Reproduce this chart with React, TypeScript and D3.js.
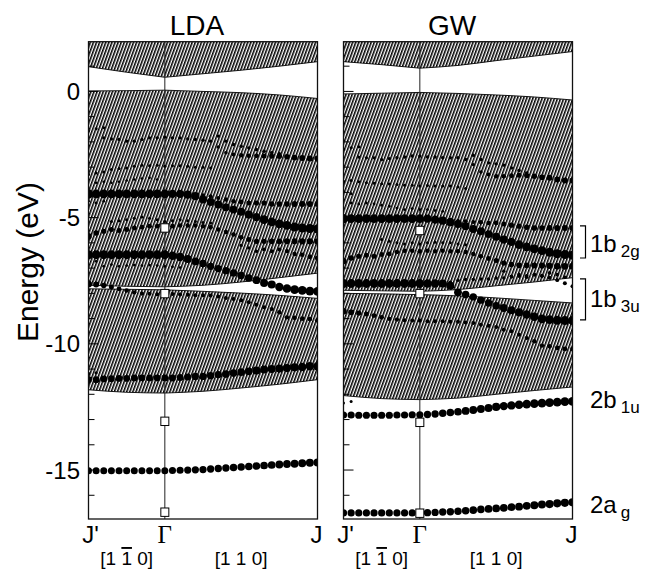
import React from "react";
import * as d3 from "d3";

// ---------- DATA ----------
// k-path: index 0 = J', 10 = Γ, 30 = J (31 k-points)
const kCount = 31;
const kLabels = ["J'", "Γ", "J"];
const kLabelIdx = [0, 10, 30];
const dirLabels = ["[1 ", "1", " 0]", "[1 1 0]"];
const yTickValues = [0, -5, -10, -15];
const panelTitles = ["LDA", "GW"];

// band-region edges (eV) at these k indices
const edgeK = [0, 5, 10, 15, 20, 25, 30];
const ldaCondBottom = [0.98, 0.76, 0.56, 0.7, 0.84, 1.0, 1.18];
const ldaValTop = [0.02, 0.03, 0.05, 0.0, -0.05, -0.14, -0.28];
const ldaValBottom = [-7.68, -7.72, -7.74, -7.68, -7.55, -7.38, -7.2];
const ldaLowTop = [-7.82, -7.84, -7.86, -7.92, -7.99, -8.08, -8.2];
const ldaLowBottom = [-11.82, -11.92, -11.95, -11.88, -11.75, -11.6, -11.42];

const gwCondBottom = [1.18, 1.06, 0.92, 1.03, 1.22, 1.4, 1.58];
const gwValTop = [-0.1, -0.07, -0.04, -0.08, -0.14, -0.22, -0.34];
const gwValBottom = [-7.88, -7.9, -7.92, -7.85, -7.7, -7.55, -7.38];
const gwLowTop = [-8.0, -8.02, -8.05, -8.1, -8.18, -8.28, -8.38];
const gwLowBottom = [-12.05, -12.17, -12.21, -12.15, -12.0, -11.85, -11.71];

// open squares at Γ (eV)
const ldaSquares = [-5.41, -8.01, -13.07, -16.67];
const gwSquares = [-5.51, -8.01, -13.11, -16.71];

// ---- LDA fat bands: energies (eV) and weights (0..1), starting at k index ----
const ldaAE = [-1.57, -1.48, -1.44];
const ldaAW = [0.3, 0.3, 0.3];
const ldaBE = [-1.84, -1.88, -1.9, -1.97, -1.97, -1.9, -1.84, -1.84, -1.81, -1.84, -1.84, -1.88, -1.9, -1.93, -1.97,
  -2.2, -2.43, -2.5, -2.53, -2.55, -2.55, -2.56, -2.56, -2.57, -2.59, -2.62, -2.64, -2.66, -2.66];
const ldaBW = [0.32, 0.32, 0.32, 0.32, 0.32, 0.34, 0.34, 0.34, 0.34, 0.34, 0.34, 0.34, 0.34, 0.34, 0.34,
  0.34, 0.36, 0.4, 0.44, 0.46, 0.48, 0.5, 0.52, 0.54, 0.56, 0.58, 0.6, 0.6, 0.62];
const ldaCE = [-1.77, -1.97, -2.1, -2.17, -2.24, -2.3, -2.37, -2.43, -2.47];
const ldaCW = [0.34, 0.34, 0.34, 0.34, 0.34, 0.34, 0.36, 0.36, 0.36];
const ldaDE = [-3.29, -3.23, -3.19, -3.09, -3.05, -3.03, -2.96, -2.92, -2.94, -2.92, -2.96, -2.94, -2.94, -2.96, -3.0, -3.0, -3.03];
const ldaDW = [0.3, 0.3, 0.3, 0.3, 0.3, 0.3, 0.3, 0.3, 0.3, 0.3, 0.3, 0.3, 0.3, 0.3, 0.3, 0.3, 0.3];
const ldaEE = [-3.62, -3.58, -3.62, -3.58, -3.53, -3.49, -3.45, -3.42, -3.49];
const ldaEW = [0.26, 0.26, 0.26, 0.26, 0.26, 0.26, 0.26, 0.26, 0.26];
const ldaFE = [-4.06, -4.06, -4.06, -4.06, -4.06, -4.06, -4.06, -4.06, -4.06, -4.06, -4.06, -4.06, -4.06,
  -4.09, -4.15, -4.28, -4.38, -4.48, -4.59, -4.68, -4.77, -4.88, -4.98, -5.08, -5.17, -5.25, -5.31, -5.37, -5.41, -5.43, -5.45];
const ldaFW = [0.92, 0.88, 0.88, 0.88, 0.88, 0.88, 0.88, 0.88, 0.88, 0.88, 0.86, 0.84, 0.84, 0.82, 0.82, 0.8, 0.78, 0.78, 0.78, 0.78,
  0.8, 0.82, 0.84, 0.86, 0.86, 0.88, 0.88, 0.9, 0.9, 0.92, 0.92];
const ldaF2E = [-4.35, -4.42, -4.35];
const ldaF2W = [0.28, 0.28, 0.28];
const ldaGE = [-4.09, -4.11, -4.15, -4.22, -4.28, -4.35, -4.38, -4.42, -4.42, -4.42, -4.46, -4.46, -4.46, -4.46, -4.46, -4.46, -4.46];
const ldaGW = [0.36, 0.36, 0.4, 0.4, 0.44, 0.46, 0.48, 0.5, 0.52, 0.52, 0.54, 0.56, 0.56, 0.58, 0.6, 0.6, 0.6];
const ldaHE = [-5.15, -5.12, -5.08, -5.02, -4.98, -5.02, -5.08, -5.15, -5.12, -5.08, -5.12, -5.15, -5.19, -5.21];
const ldaHW = [0.3, 0.3, 0.3, 0.3, 0.3, 0.3, 0.3, 0.3, 0.3, 0.3, 0.3, 0.3, 0.3, 0.3];
const ldaIE = [-5.74, -5.61, -5.54, -5.47, -5.51, -5.47, -5.41, -5.38, -5.34, -5.34, -5.37, -5.34, -5.31, -5.31, -5.31,
  -5.34, -5.38, -5.47, -5.57, -5.67, -5.78, -5.87, -5.94, -5.94, -5.94, -5.94, -5.94, -5.94, -5.94, -5.94, -5.94];
const ldaIW = [0.64, 0.56, 0.52, 0.5, 0.5, 0.5, 0.48, 0.48, 0.48, 0.48, 0.48, 0.48, 0.46, 0.44, 0.44, 0.44, 0.44, 0.44,
  0.44, 0.46, 0.48, 0.5, 0.52, 0.54, 0.56, 0.58, 0.6, 0.6, 0.62, 0.64, 0.64];
const ldaJE = [-6.1, -6.2, -6.33, -6.26, -6.33, -6.26, -6.33, -6.44, -6.47, -6.55, -6.6];
const ldaJW = [0.32, 0.34, 0.36, 0.38, 0.4, 0.4, 0.42, 0.44, 0.46, 0.48, 0.52];
const ldaKE = [-6.47, -6.47, -6.47, -6.47, -6.47, -6.47, -6.47, -6.47, -6.47, -6.47, -6.47,
  -6.51, -6.56, -6.64, -6.73, -6.82, -6.93, -7.02, -7.1, -7.19, -7.29, -7.39, -7.48, -7.59, -7.65, -7.75, -7.81, -7.85, -7.88, -7.91, -7.92];
const ldaKW = [0.92, 0.88, 0.88, 0.88, 0.88, 0.88, 0.88, 0.88, 0.88, 0.88, 0.88, 0.86, 0.84, 0.82, 0.78, 0.76, 0.74, 0.72, 0.72, 0.72,
  0.74, 0.76, 0.78, 0.8, 0.82, 0.84, 0.86, 0.88, 0.88, 0.88, 0.88];
const ldaLE = [-6.73, -6.93, -6.86, -6.93, -6.9, -6.88, -6.9, -6.88, -6.9, -6.93, -6.95, -6.98];
const ldaLW = [0.28, 0.28, 0.28, 0.28, 0.28, 0.28, 0.28, 0.28, 0.28, 0.28, 0.28, 0.28];
const ldaME = [-7.63, -7.65, -7.69, -7.75, -7.82, -7.89, -7.96, -8.01, -8.02, -8.04, -8.03, -8.03, -8.05, -8.06, -8.08,
  -8.08, -8.09, -8.12, -8.18, -8.22, -8.27, -8.35, -8.45, -8.55, -8.62, -8.75, -8.95, -8.97, -9.0, -9.02, -9.07];
const ldaMW = [0.7, 0.6, 0.54, 0.5, 0.48, 0.46, 0.44, 0.42, 0.4, 0.4, 0.4, 0.4, 0.4, 0.4, 0.4, 0.4, 0.4, 0.4, 0.4, 0.4,
  0.4, 0.4, 0.4, 0.42, 0.42, 0.44, 0.44, 0.46, 0.46, 0.48, 0.48];
const ldaNE = [-11.42, -11.42, -11.39, -11.38, -11.37, -11.37, -11.35, -11.35, -11.35, -11.35, -11.35, -11.35, -11.33,
  -11.31, -11.29, -11.29, -11.26, -11.22, -11.2, -11.16, -11.12, -11.09, -11.06, -11.02, -11.0, -10.98, -10.96, -10.93, -10.92, -10.89, -10.89];
const ldaNW = [0.68, 0.68, 0.68, 0.68, 0.68, 0.68, 0.68, 0.68, 0.68, 0.68, 0.68, 0.7, 0.7, 0.7, 0.72, 0.72, 0.74, 0.74,
  0.76, 0.76, 0.78, 0.78, 0.8, 0.8, 0.8, 0.82, 0.82, 0.82, 0.84, 0.84, 0.84];
const ldaN2E = [-11.17, -11.15];
const ldaN2W = [0.3, 0.3];
const ldaOE = [-15.03, -15.03, -15.03, -15.03, -15.03, -15.03, -15.03, -15.03, -15.03, -15.03, -15.03, -15.02, -15.01,
  -15.0, -14.99, -14.98, -14.96, -14.94, -14.92, -14.9, -14.88, -14.86, -14.84, -14.82, -14.8, -14.78, -14.76, -14.75, -14.73, -14.71, -14.7];
const ldaOW = [0.7, 0.7, 0.7, 0.7, 0.7, 0.7, 0.7, 0.7, 0.7, 0.7, 0.7, 0.71, 0.71, 0.72, 0.72, 0.73, 0.73,
  0.74, 0.74, 0.75, 0.75, 0.76, 0.76, 0.77, 0.77, 0.78, 0.78, 0.79, 0.79, 0.8, 0.8];

// ---- GW fat bands ----
const gwAE = [-2.3, -2.23, -2.19];
const gwAW = [0.3, 0.3, 0.3];
const gwBE = [-2.6, -2.63, -2.63, -2.7, -2.66, -2.63, -2.6, -2.56, -2.56, -2.6, -2.6, -2.63, -2.63, -2.63, -2.7,
  -2.9, -3.19, -3.29, -3.36, -3.36, -3.34, -3.32, -3.33, -3.36, -3.4, -3.42, -3.49, -3.53, -3.53];
const gwBW = [0.32, 0.32, 0.32, 0.32, 0.32, 0.34, 0.34, 0.34, 0.34, 0.34, 0.34, 0.34, 0.34, 0.34, 0.34,
  0.34, 0.36, 0.4, 0.44, 0.46, 0.48, 0.5, 0.52, 0.54, 0.56, 0.58, 0.6, 0.6, 0.62];
const gwCE = [-2.53, -2.7, -2.83, -2.87, -2.92, -3.03, -3.13, -3.23];
const gwCW = [0.34, 0.34, 0.34, 0.34, 0.34, 0.34, 0.36, 0.36];
const gwDE = [-3.56, -3.53, -3.58, -3.62, -3.64, -3.66, -3.67, -3.69, -3.72, -3.72, -3.75, -3.73, -3.75, -3.75, -3.75, -3.79, -3.85];
const gwDW = [0.3, 0.3, 0.3, 0.3, 0.3, 0.3, 0.3, 0.3, 0.3, 0.3, 0.3, 0.3, 0.3, 0.3, 0.3, 0.3, 0.3];
const gwD2E = [-3.98, -4.05];
const gwD2W = [0.28, 0.28];
const gwFE = [-4.42, -4.46, -4.42, -4.46, -4.51, -4.55, -4.62, -4.68, -4.64, -4.68, -4.68, -4.72, -4.75];
const gwFW = [0.28, 0.28, 0.28, 0.28, 0.28, 0.28, 0.28, 0.28, 0.28, 0.28, 0.28, 0.28, 0.28];
const gwGE = [-5.04, -5.04, -5.04, -5.04, -5.04, -5.04, -5.04, -5.04, -5.04, -5.04, -5.04, -5.04,
  -5.08, -5.12, -5.18, -5.25, -5.34, -5.45, -5.54, -5.65, -5.76, -5.87, -5.96, -6.07, -6.16, -6.24, -6.31, -6.37, -6.43, -6.46, -6.49];
const gwGW = [0.92, 0.88, 0.88, 0.88, 0.88, 0.88, 0.88, 0.88, 0.88, 0.88, 0.86, 0.84, 0.84, 0.82, 0.82, 0.8, 0.78, 0.78, 0.78, 0.78,
  0.8, 0.82, 0.84, 0.86, 0.86, 0.88, 0.88, 0.9, 0.9, 0.92, 0.92];
const gwHE = [-5.08, -5.12, -5.14, -5.17, -5.18, -5.21, -5.21, -5.25, -5.3, -5.34, -5.38, -5.41, -5.41, -5.41, -5.41, -5.41, -5.41];
const gwHW = [0.36, 0.36, 0.4, 0.4, 0.44, 0.46, 0.48, 0.5, 0.52, 0.52, 0.54, 0.56, 0.56, 0.58, 0.6, 0.6, 0.6];
const gwIE = [-5.87, -5.94, -6.0, -6.04, -6.0, -6.04, -6.0, -5.98, -6.0, -6.0, -6.04, -6.07];
const gwIW = [0.3, 0.3, 0.3, 0.3, 0.3, 0.3, 0.3, 0.3, 0.3, 0.3, 0.3, 0.3];
const gwJE = [-6.73, -6.6, -6.53, -6.49, -6.53, -6.46, -6.44, -6.36, -6.31, -6.31, -6.33, -6.31, -6.33, -6.31, -6.33,
  -6.33, -6.36, -6.44, -6.53, -6.62, -6.7, -6.8, -6.86, -6.89, -6.89, -6.9, -6.9, -6.91, -6.93, -6.93, -6.93];
const gwJW = [0.64, 0.56, 0.52, 0.5, 0.5, 0.48, 0.48, 0.46, 0.46, 0.46, 0.46, 0.46, 0.44, 0.44, 0.44, 0.44, 0.44, 0.44,
  0.46, 0.48, 0.5, 0.52, 0.54, 0.56, 0.58, 0.6, 0.62, 0.64, 0.66, 0.68, 0.7];
const gwKE = [-7.12, -7.32, -7.26, -7.36, -7.26, -7.32, -7.19, -7.26, -7.36];
const gwKW = [0.34, 0.36, 0.36, 0.36, 0.36, 0.36, 0.36, 0.36, 0.36];
const gwLE = [-7.61, -7.61, -7.61, -7.61, -7.61, -7.61, -7.61, -7.61, -7.61, -7.61, -7.61, -7.61, -7.61, -7.61,
  -7.7, -7.96, -8.05, -8.14, -8.27, -8.38, -8.49, -8.58, -8.67, -8.75, -8.84, -8.93, -9.01, -9.04, -9.07, -9.08, -9.08];
const gwLW = [0.92, 0.88, 0.88, 0.88, 0.88, 0.88, 0.88, 0.88, 0.88, 0.88, 0.88, 0.86, 0.84, 0.82, 0.8, 0.78, 0.76, 0.74, 0.74, 0.74,
  0.76, 0.78, 0.8, 0.82, 0.84, 0.86, 0.88, 0.88, 0.9, 0.9, 0.9];
const gwME = [-7.56, -7.48, -7.45, -7.45, -7.43, -7.43, -7.39, -7.39, -7.35, -7.32, -7.3, -7.26, -7.3, -7.38, -7.48, -7.6, -7.72];
const gwMW = [0.34, 0.34, 0.34, 0.34, 0.34, 0.34, 0.34, 0.34, 0.34, 0.36, 0.36, 0.36, 0.38, 0.38, 0.38, 0.4, 0.4];
const gwNE = [-8.71, -8.75, -8.78, -8.82, -8.88, -8.95, -9.01, -9.04, -9.07, -9.08, -9.08, -9.11, -9.11, -9.11, -9.13,
  -9.13, -9.15, -9.17, -9.24, -9.28, -9.33, -9.44, -9.5, -9.64, -9.77, -9.9, -10.07, -10.1, -10.16, -10.2, -10.2];
const gwNW = [0.66, 0.58, 0.52, 0.5, 0.48, 0.46, 0.44, 0.42, 0.4, 0.4, 0.4, 0.4, 0.4, 0.4, 0.4, 0.4, 0.4, 0.4, 0.4, 0.4,
  0.4, 0.4, 0.4, 0.42, 0.42, 0.44, 0.44, 0.46, 0.46, 0.48, 0.48];
const gwOE = [-12.34, -12.28];
const gwOW = [0.3, 0.3];
const gwPE = [-12.82, -12.82, -12.83, -12.83, -12.83, -12.83, -12.83, -12.82, -12.82, -12.81, -12.81, -12.8, -12.78,
  -12.75, -12.72, -12.69, -12.66, -12.62, -12.58, -12.54, -12.5, -12.47, -12.44, -12.41, -12.39, -12.37, -12.35, -12.33, -12.31, -12.29, -12.28];
const gwPW = [0.72, 0.72, 0.72, 0.72, 0.72, 0.72, 0.72, 0.72, 0.72, 0.72, 0.72, 0.73, 0.74, 0.75, 0.76, 0.77, 0.78, 0.79,
  0.8, 0.81, 0.82, 0.83, 0.84, 0.85, 0.86, 0.86, 0.87, 0.87, 0.88, 0.88, 0.88];
const gwQE = [-16.7, -16.7, -16.7, -16.7, -16.7, -16.7, -16.7, -16.7, -16.7, -16.7, -16.7, -16.69, -16.68, -16.66, -16.65,
  -16.63, -16.61, -16.59, -16.56, -16.54, -16.52, -16.5, -16.47, -16.45, -16.42, -16.4, -16.37, -16.35, -16.32, -16.3, -16.28];
const gwQW = [0.72, 0.72, 0.72, 0.72, 0.72, 0.72, 0.72, 0.72, 0.72, 0.72, 0.72, 0.73, 0.73, 0.74, 0.74, 0.75, 0.75, 0.76,
  0.76, 0.77, 0.77, 0.78, 0.78, 0.79, 0.79, 0.8, 0.8, 0.81, 0.81, 0.82, 0.82];

// annotations (GW panel, right side)
const annotMain = ["1b", "1b", "2b", "2a"];
const annotSub = ["2g", "3u", "1u", "g"];
const bracketTop = [-5.33, -7.43];
const bracketBottom = [-6.6, -9.05];

type Band = { start: number; e: number[]; w: number[] };
const ldaBands: Band[] = [
  { start: 0, e: ldaAE, w: ldaAW }, { start: 2, e: ldaBE, w: ldaBW }, { start: 17, e: ldaCE, w: ldaCW },
  { start: 0, e: ldaDE, w: ldaDW }, { start: 1, e: ldaEE, w: ldaEW }, { start: 0, e: ldaFE, w: ldaFW },
  { start: 0, e: ldaF2E, w: ldaF2W }, { start: 14, e: ldaGE, w: ldaGW }, { start: 3, e: ldaHE, w: ldaHW },
  { start: 0, e: ldaIE, w: ldaIW }, { start: 20, e: ldaJE, w: ldaJW }, { start: 0, e: ldaKE, w: ldaKW },
  { start: 1, e: ldaLE, w: ldaLW }, { start: 0, e: ldaME, w: ldaMW }, { start: 0, e: ldaNE, w: ldaNW },
  { start: 0, e: ldaN2E, w: ldaN2W }, { start: 0, e: ldaOE, w: ldaOW },
];
const gwBands: Band[] = [
  { start: 0, e: gwAE, w: gwAW }, { start: 2, e: gwBE, w: gwBW }, { start: 17, e: gwCE, w: gwCW },
  { start: 0, e: gwDE, w: gwDW }, { start: 0, e: gwD2E, w: gwD2W }, { start: 1, e: gwFE, w: gwFW },
  { start: 0, e: gwGE, w: gwGW }, { start: 14, e: gwHE, w: gwHW }, { start: 5, e: gwIE, w: gwIW },
  { start: 0, e: gwJE, w: gwJW }, { start: 21, e: gwKE, w: gwKW }, { start: 0, e: gwLE, w: gwLW },
  { start: 14, e: gwME, w: gwMW }, { start: 0, e: gwNE, w: gwNW }, { start: 0, e: gwOE, w: gwOW },
  { start: 0, e: gwPE, w: gwPW }, { start: 0, e: gwQE, w: gwQW },
];

// ---------- CHART ----------
const SANS = "'Liberation Sans', Arial, Helvetica, sans-serif";
const SERIF = "'Liberation Serif', 'Times New Roman', serif";

const yScale = d3.scaleLinear().domain([1.97, -16.94]).range([41.7, 519]);
const rScale = d3.scaleLinear().domain([0, 1]).range([0, 5]);

type PanelDef = {
  id: string; title: string; x0: number; x1: number; bands: Band[];
  cond: number[]; valTop: number[]; valBot: number[]; lowTop: number[]; lowBot: number[];
  squares: number[]; showY: boolean;
};

const panels: PanelDef[] = [
  { id: "lda", title: panelTitles[0], x0: 88.5, x1: 317.5, bands: ldaBands, cond: ldaCondBottom, valTop: ldaValTop,
    valBot: ldaValBottom, lowTop: ldaLowTop, lowBot: ldaLowBottom, squares: ldaSquares, showY: true },
  { id: "gw", title: panelTitles[1], x0: 343.5, x1: 572.5, bands: gwBands, cond: gwCondBottom, valTop: gwValTop,
    valBot: gwValBottom, lowTop: gwLowTop, lowBot: gwLowBottom, squares: gwSquares, showY: false },
];

// split edge nodes at Γ so the curves may kink there
const halves = [[0, 1, 2], [2, 3, 4, 5, 6]];

function Panel({ p }: { p: PanelDef }) {
  const x = d3.scaleLinear().domain([0, kCount - 1]).range([p.x0, p.x1]);
  const top = yScale.range()[0];
  const yb = yScale.range()[1];
  const region = (t: number[] | null, b: number[], idx: number[]) =>
    d3.area<number>()
      .x((i) => x(edgeK[i]))
      .y0((i) => yScale(b[i]))
      .y1((i) => (t ? yScale(t[i]) : top))
      .curve(d3.curveMonotoneX)(idx) || "";
  const edge = (v: number[], idx: number[]) =>
    d3.line<number>().x((i) => x(edgeK[i])).y((i) => yScale(v[i])).curve(d3.curveMonotoneX)(idx) || "";
  const gx = x(kLabelIdx[1]);
  const ticks = d3.range(-16, 2, 1);
  const regions: [number[] | null, number[]][] = [[null, p.cond], [p.valTop, p.valBot], [p.lowTop, p.lowBot]];
  return (
    <g>
      <defs>
        <clipPath id={"clip-" + p.id}>
          <rect x={p.x0} y={top} width={p.x1 - p.x0} height={yb - top} />
        </clipPath>
      </defs>
      <g clipPath={`url(#clip-${p.id})`}>
        {halves.map((h, hi) =>
          regions.map(([t, b], ri) => (
            <path key={hi + "-" + ri} d={region(t, b, h)} fill="url(#hatch)" />
          ))
        )}
        {halves.map((h, hi) =>
          [p.cond, p.valTop, p.valBot, p.lowTop, p.lowBot].map((v, i) => (
            <path key={hi + "e" + i} d={edge(v, h)} fill="none" stroke="#000" strokeWidth={0.9} />
          ))
        )}
        <line x1={gx} x2={gx} y1={top} y2={yb} stroke="#222" strokeWidth={1} />
        {p.bands.map((b, bi) =>
          b.e.map((e, j) => (
            <circle key={bi + "-" + j} cx={x(b.start + j)} cy={yScale(e)} r={rScale(b.w[j] ?? b.w[b.w.length - 1])} fill="#000" />
          ))
        )}
        {p.squares.map((e, i) => (
          <rect key={i} x={gx - 4} y={yScale(e) - 4.2} width={8} height={8.4} fill="#fff" stroke="#000" strokeWidth={1} />
        ))}
      </g>
      {ticks.map((t) => (
        <line key={t} x1={p.x0} x2={p.x0 + (t % 5 === 0 ? 10 : 6)} y1={yScale(t)} y2={yScale(t)} stroke="#000" strokeWidth={1} />
      ))}
      <rect x={p.x0} y={top} width={p.x1 - p.x0} height={yb - top} fill="none" stroke="#111" strokeWidth={1.3} />
      <text x={(p.x0 + p.x1) / 2 - 6} y={35} textAnchor="middle" fontFamily={SANS} fontSize={28}>{p.title}</text>
      {p.showY && yTickValues.map((t) => (
        <text key={t} x={80} y={yScale(t)} dy="0.36em" textAnchor="end" fontFamily={SANS} fontSize={24}>{t}</text>
      ))}
      <text x={x(kLabelIdx[0]) + 2} y={543} textAnchor="middle" fontFamily={SANS} fontSize={24}>{kLabels[0]}</text>
      <text x={x(kLabelIdx[1])} y={543} textAnchor="middle" fontFamily={SERIF} fontSize={25}>{kLabels[1]}</text>
      <text x={x(kLabelIdx[2]) - 1} y={543} textAnchor="middle" fontFamily={SANS} fontSize={24}>{kLabels[2]}</text>
      <text x={x(5)} y={565} textAnchor="middle" fontFamily={SANS} fontSize={19} style={{ whiteSpace: "pre" }}>
        {dirLabels[0]}<tspan style={{ textDecoration: "overline" }}>{dirLabels[1]}</tspan>{dirLabels[2]}
      </text>
      <text x={x(20)} y={565} textAnchor="middle" fontFamily={SANS} fontSize={19}>{dirLabels[3]}</text>
    </g>
  );
}

export default function App() {
  const gw = panels[1];
  const bx = gw.x1 + 13;
  const labelY = [251.5, 306.5, 408.3, 513];
  return (
    <svg width={652} height={572} viewBox="0 0 652 572" style={{ display: "block", position: "absolute", left: 0, top: 0, background: "#fff" }}>
      <defs>
        <pattern id="hatch" patternUnits="userSpaceOnUse" width={2.9} height={10} patternTransform="rotate(20)">
          <rect x={0} y={0} width={1.55} height={10} fill="#000" />
        </pattern>
      </defs>
      <rect x={0} y={0} width={652} height={572} fill="#fff" />
      {panels.map((p) => <Panel key={p.id} p={p} />)}
      <text transform="translate(38,262) rotate(-90)" textAnchor="middle" fontFamily={SANS} fontSize={30}>Energy (eV)</text>
      {bracketTop.map((t, i) => (
        <path key={i} d={`M${bx - 5.5},${yScale(t)}H${bx}V${yScale(bracketBottom[i])}H${bx - 5.5}`} fill="none" stroke="#000" strokeWidth={1.2} />
      ))}
      {annotMain.map((m, i) => (
        <text key={i} x={590} y={labelY[i]} fontFamily={SANS} fontSize={24}>
          {m}
          <tspan dx={4} dy={5} fontSize={17}>{annotSub[i]}</tspan>
        </text>
      ))}
    </svg>
  );
}
